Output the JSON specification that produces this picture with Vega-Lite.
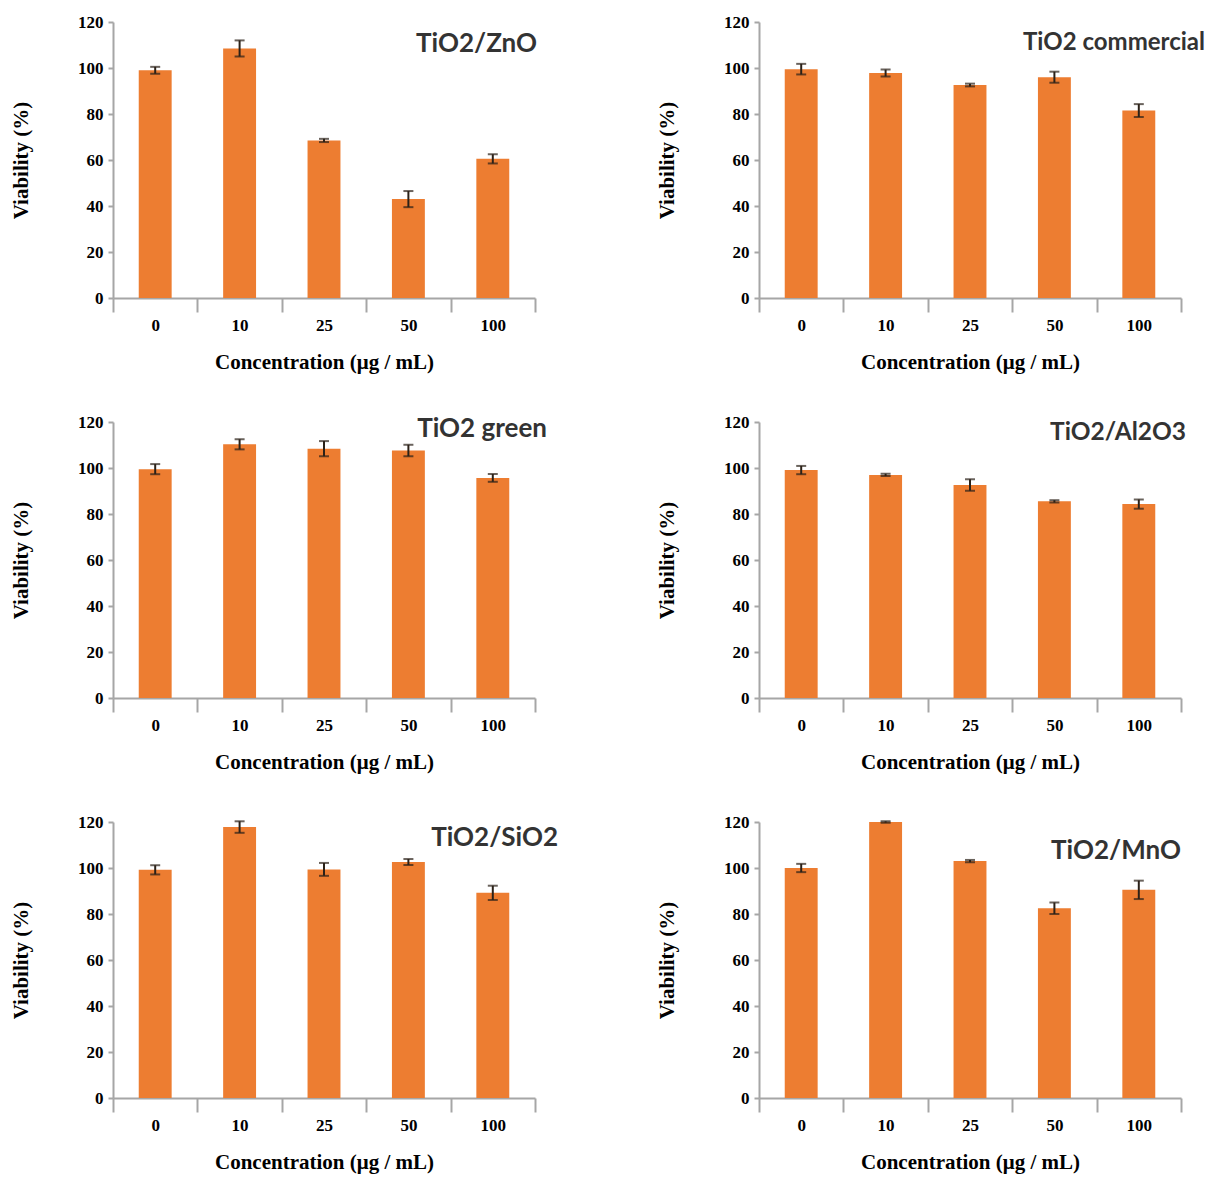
{
  "$schema": "https://vega.github.io/schema/vega-lite/v6.json",
  "background": "white",
  "padding": {"left": 10, "top": 13, "right": 4, "bottom": 2},
  "data": {
    "values": [
      {"panel": "ZnO", "conc": 0, "viability": 99.0, "sd": 1.5},
      {"panel": "ZnO", "conc": 10, "viability": 108.5, "sd": 3.5},
      {"panel": "ZnO", "conc": 25, "viability": 68.5, "sd": 0.7},
      {"panel": "ZnO", "conc": 50, "viability": 43.0, "sd": 3.5},
      {"panel": "ZnO", "conc": 100, "viability": 60.5, "sd": 2.0},
      {"panel": "commercial", "conc": 0, "viability": 99.5, "sd": 2.3},
      {"panel": "commercial", "conc": 10, "viability": 97.8, "sd": 1.5},
      {"panel": "commercial", "conc": 25, "viability": 92.6, "sd": 0.6},
      {"panel": "commercial", "conc": 50, "viability": 96.0, "sd": 2.4},
      {"panel": "commercial", "conc": 100, "viability": 81.5, "sd": 2.8},
      {"panel": "green", "conc": 0, "viability": 99.5, "sd": 2.2},
      {"panel": "green", "conc": 10, "viability": 110.3, "sd": 2.2},
      {"panel": "green", "conc": 25, "viability": 108.4, "sd": 3.3},
      {"panel": "green", "conc": 50, "viability": 107.6, "sd": 2.5},
      {"panel": "green", "conc": 100, "viability": 95.7, "sd": 1.7},
      {"panel": "Al2O3", "conc": 0, "viability": 99.1, "sd": 1.8},
      {"panel": "Al2O3", "conc": 10, "viability": 97.0, "sd": 0.5},
      {"panel": "Al2O3", "conc": 25, "viability": 92.6, "sd": 2.5},
      {"panel": "Al2O3", "conc": 50, "viability": 85.5, "sd": 0.5},
      {"panel": "Al2O3", "conc": 100, "viability": 84.3, "sd": 2.0},
      {"panel": "SiO2", "conc": 0, "viability": 99.2, "sd": 2.0},
      {"panel": "SiO2", "conc": 10, "viability": 117.8, "sd": 2.5},
      {"panel": "SiO2", "conc": 25, "viability": 99.4, "sd": 2.8},
      {"panel": "SiO2", "conc": 50, "viability": 102.6, "sd": 1.3},
      {"panel": "SiO2", "conc": 100, "viability": 89.2, "sd": 3.1},
      {"panel": "MnO", "conc": 0, "viability": 100.0, "sd": 1.8},
      {"panel": "MnO", "conc": 10, "viability": 120.0, "sd": 0.3},
      {"panel": "MnO", "conc": 25, "viability": 103.0, "sd": 0.5},
      {"panel": "MnO", "conc": 50, "viability": 82.5, "sd": 2.5},
      {"panel": "MnO", "conc": 100, "viability": 90.5, "sd": 4.0}
    ]
  },
  "columns": 2,
  "bounds": "flush",
  "spacing": {"row": 124, "column": 224},
  "concat": [
    {
      "width": 422, "height": 276,
      "title": {"text": "TiO2/ZnO", "fontSize": 26, "dx": 2, "dy": 48},
      "transform": [{"filter": "datum.panel === 'ZnO'"}],
      "encoding": {"x": {"field": "conc", "type": "ordinal", "scale": {"padding": 0}, "title": "Concentration (μg / mL)"}},
      "layer": [
        {"mark": {"type": "bar", "color": "#ED7D31", "width": {"band": 0.39}},
         "encoding": {"y": {"field": "viability", "type": "quantitative", "scale": {"domain": [0, 120], "nice": false}, "axis": {"values": [0, 20, 40, 60, 80, 100, 120]}, "title": "Viability (%)"}}},
        {"mark": {"type": "errorbar", "color": "#2b2118", "thickness": 2, "ticks": {"size": 10, "thickness": 2, "color": "#2b2118"}},
         "encoding": {"y": {"field": "viability", "type": "quantitative", "title": "Viability (%)"}, "yError": {"field": "sd"}}}
      ]
    },
    {
      "width": 422, "height": 276,
      "title": {"text": "TiO2 commercial", "fontSize": 24, "dx": 24, "dy": 46},
      "transform": [{"filter": "datum.panel === 'commercial'"}],
      "encoding": {"x": {"field": "conc", "type": "ordinal", "scale": {"padding": 0}, "title": "Concentration (μg / mL)"}},
      "layer": [
        {"mark": {"type": "bar", "color": "#ED7D31", "width": {"band": 0.39}},
         "encoding": {"y": {"field": "viability", "type": "quantitative", "scale": {"domain": [0, 120], "nice": false}, "axis": {"values": [0, 20, 40, 60, 80, 100, 120]}, "title": "Viability (%)"}}},
        {"mark": {"type": "errorbar", "color": "#2b2118", "thickness": 2, "ticks": {"size": 10, "thickness": 2, "color": "#2b2118"}},
         "encoding": {"y": {"field": "viability", "type": "quantitative", "title": "Viability (%)"}, "yError": {"field": "sd"}}}
      ]
    },
    {
      "width": 422, "height": 276,
      "title": {"text": "TiO2 green", "fontSize": 26, "dx": 12, "dy": 33},
      "transform": [{"filter": "datum.panel === 'green'"}],
      "encoding": {"x": {"field": "conc", "type": "ordinal", "scale": {"padding": 0}, "title": "Concentration (μg / mL)"}},
      "layer": [
        {"mark": {"type": "bar", "color": "#ED7D31", "width": {"band": 0.39}},
         "encoding": {"y": {"field": "viability", "type": "quantitative", "scale": {"domain": [0, 120], "nice": false}, "axis": {"values": [0, 20, 40, 60, 80, 100, 120]}, "title": "Viability (%)"}}},
        {"mark": {"type": "errorbar", "color": "#2b2118", "thickness": 2, "ticks": {"size": 10, "thickness": 2, "color": "#2b2118"}},
         "encoding": {"y": {"field": "viability", "type": "quantitative", "title": "Viability (%)"}, "yError": {"field": "sd"}}}
      ]
    },
    {
      "width": 422, "height": 276,
      "title": {"text": "TiO2/Al2O3", "fontSize": 24.5, "dx": 5, "dy": 36},
      "transform": [{"filter": "datum.panel === 'Al2O3'"}],
      "encoding": {"x": {"field": "conc", "type": "ordinal", "scale": {"padding": 0}, "title": "Concentration (μg / mL)"}},
      "layer": [
        {"mark": {"type": "bar", "color": "#ED7D31", "width": {"band": 0.39}},
         "encoding": {"y": {"field": "viability", "type": "quantitative", "scale": {"domain": [0, 120], "nice": false}, "axis": {"values": [0, 20, 40, 60, 80, 100, 120]}, "title": "Viability (%)"}}},
        {"mark": {"type": "errorbar", "color": "#2b2118", "thickness": 2, "ticks": {"size": 10, "thickness": 2, "color": "#2b2118"}},
         "encoding": {"y": {"field": "viability", "type": "quantitative", "title": "Viability (%)"}, "yError": {"field": "sd"}}}
      ]
    },
    {
      "width": 422, "height": 276,
      "title": {"text": "TiO2/SiO2", "fontSize": 26, "dx": 23, "dy": 42},
      "transform": [{"filter": "datum.panel === 'SiO2'"}],
      "encoding": {"x": {"field": "conc", "type": "ordinal", "scale": {"padding": 0}, "title": "Concentration (μg / mL)"}},
      "layer": [
        {"mark": {"type": "bar", "color": "#ED7D31", "width": {"band": 0.39}},
         "encoding": {"y": {"field": "viability", "type": "quantitative", "scale": {"domain": [0, 120], "nice": false}, "axis": {"values": [0, 20, 40, 60, 80, 100, 120]}, "title": "Viability (%)"}}},
        {"mark": {"type": "errorbar", "color": "#2b2118", "thickness": 2, "ticks": {"size": 10, "thickness": 2, "color": "#2b2118"}},
         "encoding": {"y": {"field": "viability", "type": "quantitative", "title": "Viability (%)"}, "yError": {"field": "sd"}}}
      ]
    },
    {
      "width": 422, "height": 276,
      "title": {"text": "TiO2/MnO", "fontSize": 26, "dx": 0, "dy": 55},
      "transform": [{"filter": "datum.panel === 'MnO'"}],
      "encoding": {"x": {"field": "conc", "type": "ordinal", "scale": {"padding": 0}, "title": "Concentration (μg / mL)"}},
      "layer": [
        {"mark": {"type": "bar", "color": "#ED7D31", "width": {"band": 0.39}},
         "encoding": {"y": {"field": "viability", "type": "quantitative", "scale": {"domain": [0, 120], "nice": false}, "axis": {"values": [0, 20, 40, 60, 80, 100, 120]}, "title": "Viability (%)"}}},
        {"mark": {"type": "errorbar", "color": "#2b2118", "thickness": 2, "ticks": {"size": 10, "thickness": 2, "color": "#2b2118"}},
         "encoding": {"y": {"field": "viability", "type": "quantitative", "title": "Viability (%)"}, "yError": {"field": "sd"}}}
      ]
    }
  ],
  "config": {
    "view": {"stroke": null},
    "axis": {
      "grid": false,
      "domainColor": "#a6a6a6", "domainWidth": 2,
      "tickColor": "#a6a6a6", "tickWidth": 2,
      "labelFont": "Liberation Serif", "labelFontWeight": "bold", "labelFontSize": 17, "labelColor": "#000000",
      "titleFont": "Liberation Serif", "titleFontWeight": "bold", "titleFontSize": 21, "titleColor": "#000000"
    },
    "axisX": {"tickBand": "extent", "tickSize": 14, "labelAngle": 0, "labelPadding": 5, "titlePadding": 18},
    "axisY": {"tickSize": 5, "labelPadding": 5, "titlePadding": 46},
    "title": {
      "font": "Lato",
      "fontWeight": "bold", "color": "#333333",
      "anchor": "end", "frame": "group", "baseline": "top", "offset": 0
    }
  }
}
